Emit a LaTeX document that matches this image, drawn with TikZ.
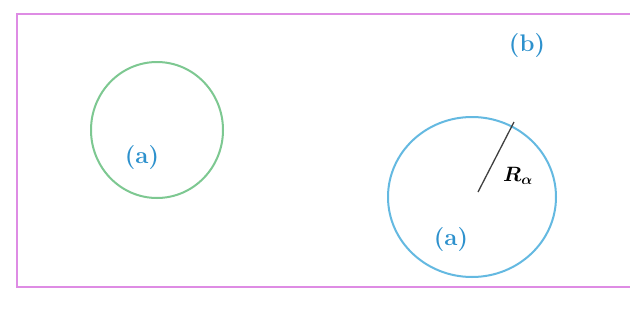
\documentclass[tikz,border=0pt]{standalone}
\usepackage{fontspec}
\usepackage{amsmath,bm}
\definecolor{frameM}{RGB}{222,140,228}
\definecolor{greenC}{RGB}{125,200,145}
\definecolor{blueC}{RGB}{100,185,225}
\definecolor{labB}{RGB}{45,145,205}
\tikzset{
  lab/.style={text=labB,font=\fontsize{24}{28}\selectfont\bfseries,inner sep=0pt},
  ring/.style={line width=2pt},
}
\begin{document}
\begin{tikzpicture}[x=1pt,y=-1pt]
\useasboundingbox (0,0) rectangle (630,322);
\fill[white] (0,0) rectangle (630,322);
\draw[frameM,line width=2.2pt] (640,14) -- (17,14) -- (17,287) -- (640,287);
% green circle
\coordinate (g) at (157,130);
\draw[ring,greenC] (g) ellipse [x radius=66pt, y radius=68pt];
\node[lab] (la1) at (142,158) {(a)};
% blue circle
\coordinate (c) at (472,197);
\draw[ring,blueC] (c) ellipse [x radius=84pt, y radius=80pt];
\coordinate (r0) at (478,192);
\coordinate (r1) at (514,122);
\draw[line width=1.3pt,black!75] (r0) -- (r1);
\node[inner sep=0pt,font=\fontsize{22}{26}\selectfont] (ra) at (518,176) {$\boldsymbol{R_{\alpha}}$};
\node[lab] (la2) at (451,240) {(a)};
\node[lab] (lb) at (527,46) {(b)};
\end{tikzpicture}
\end{document}
